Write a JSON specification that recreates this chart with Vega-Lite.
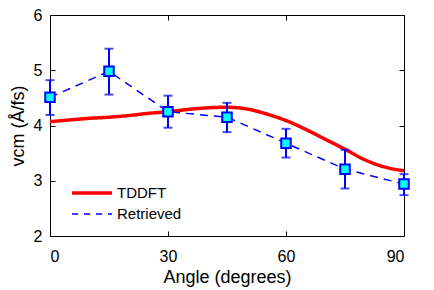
{
  "$schema": "https://vega.github.io/schema/vega-lite/v6.json",
  "autosize": "none",
  "width": 354,
  "height": 221,
  "padding": {"left": 50, "top": 15, "right": 30, "bottom": 54},
  "background": "white",
  "config": {
    "view": {"stroke": "black", "strokeWidth": 1},
    "font": "Liberation Sans",
    "axis": {"grid": false, "domainColor": "black", "tickColor": "black", "labelColor": "black", "titleColor": "black", "labelFont": "Liberation Sans", "titleFont": "Liberation Sans", "labelFontSize": 16, "titleFontSize": 18, "titleFontWeight": "normal", "tickSize": -5, "domain": false},
    "legend": {"title": null, "orient": "none", "legendX": 30, "legendY": 166, "symbolType": "M-2,0H2", "symbolSize": 400, "labelFontSize": 15, "labelFont": "Liberation Sans", "labelColor": "black", "rowPadding": 2, "labelOffset": 13}
  },
  "datasets": {
    "tddft": [
      {"angle": 0, "v": 4.07, "series": "TDDFT"},
      {"angle": 5, "v": 4.10, "series": "TDDFT"},
      {"angle": 10, "v": 4.13, "series": "TDDFT"},
      {"angle": 15, "v": 4.15, "series": "TDDFT"},
      {"angle": 20, "v": 4.18, "series": "TDDFT"},
      {"angle": 25, "v": 4.22, "series": "TDDFT"},
      {"angle": 30, "v": 4.25, "series": "TDDFT"},
      {"angle": 35, "v": 4.29, "series": "TDDFT"},
      {"angle": 40, "v": 4.32, "series": "TDDFT"},
      {"angle": 45, "v": 4.33, "series": "TDDFT"},
      {"angle": 50, "v": 4.30, "series": "TDDFT"},
      {"angle": 55, "v": 4.21, "series": "TDDFT"},
      {"angle": 60, "v": 4.09, "series": "TDDFT"},
      {"angle": 65, "v": 3.93, "series": "TDDFT"},
      {"angle": 70, "v": 3.75, "series": "TDDFT"},
      {"angle": 75, "v": 3.57, "series": "TDDFT"},
      {"angle": 80, "v": 3.38, "series": "TDDFT"},
      {"angle": 85, "v": 3.25, "series": "TDDFT"},
      {"angle": 90, "v": 3.18, "series": "TDDFT"}
    ],
    "retrieved": [
      {"angle": 0, "v": 4.51, "lo": 4.19, "hi": 4.82, "series": "Retrieved"},
      {"angle": 15, "v": 4.98, "lo": 4.56, "hi": 5.39, "series": "Retrieved"},
      {"angle": 30, "v": 4.25, "lo": 3.96, "hi": 4.54, "series": "Retrieved"},
      {"angle": 45, "v": 4.15, "lo": 3.88, "hi": 4.41, "series": "Retrieved"},
      {"angle": 60, "v": 3.68, "lo": 3.42, "hi": 3.94, "series": "Retrieved"},
      {"angle": 75, "v": 3.21, "lo": 2.86, "hi": 3.56, "series": "Retrieved"},
      {"angle": 90, "v": 2.94, "lo": 2.74, "hi": 3.12, "series": "Retrieved"}
    ]
  },
  "resolve": {"axis": {"x": "independent", "y": "independent"}},
  "layer": [
    {
      "data": {"name": "tddft"},
      "mark": {"type": "line", "interpolate": "monotone"},
      "encoding": {
        "x": {"field": "angle", "type": "quantitative", "scale": {"domain": [0, 90], "nice": false, "zero": false}, "axis": {"title": "Angle (degrees)", "values": [0, 30, 60, 90], "labelPadding": 17, "titlePadding": 4, "orient": "bottom"}},
        "y": {"field": "v", "type": "quantitative", "scale": {"domain": [2, 6], "nice": false, "zero": false}, "axis": {"title": "vcm (Å/fs)", "values": [2, 3, 4, 5, 6], "labelPadding": 13, "titlePadding": 6, "orient": "left"}},
        "color": {"field": "series", "type": "nominal", "scale": {"domain": ["TDDFT", "Retrieved"], "range": ["#FF0000", "#0000FF"]}},
        "strokeDash": {"field": "series", "type": "nominal", "scale": {"domain": ["TDDFT", "Retrieved"], "range": [[1, 0], [6, 6]]}},
        "strokeWidth": {"field": "series", "type": "nominal", "scale": {"domain": ["TDDFT", "Retrieved"], "range": [3.5, 1.5]}}
      }
    },
    {
      "data": {"name": "retrieved"},
      "mark": {"type": "line", "strokeDash": [8, 6]},
      "encoding": {
        "x": {"field": "angle", "type": "quantitative", "axis": {"title": null, "values": [0, 30, 60, 90], "labels": false, "orient": "top"}},
        "y": {"field": "v", "type": "quantitative", "axis": {"title": null, "values": [2, 3, 4, 5, 6], "labels": false, "orient": "right"}},
        "color": {"field": "series", "type": "nominal"},
        "strokeWidth": {"field": "series", "type": "nominal"}
      }
    },
    {
      "data": {"name": "retrieved"},
      "mark": {"type": "errorbar", "color": "#0000FF", "thickness": 2, "ticks": {"size": 9, "thickness": 2, "color": "#0000FF"}},
      "encoding": {
        "x": {"field": "angle", "type": "quantitative", "axis": null},
        "y": {"field": "lo", "type": "quantitative", "axis": null},
        "y2": {"field": "hi"}
      }
    },
    {
      "data": {"name": "retrieved"},
      "mark": {"type": "point", "shape": "square", "size": 90, "filled": true, "fill": "#00FFFF", "stroke": "#0000FF", "strokeWidth": 2, "opacity": 1},
      "encoding": {
        "x": {"field": "angle", "type": "quantitative", "axis": null},
        "y": {"field": "v", "type": "quantitative", "axis": null}
      }
    }
  ]
}
